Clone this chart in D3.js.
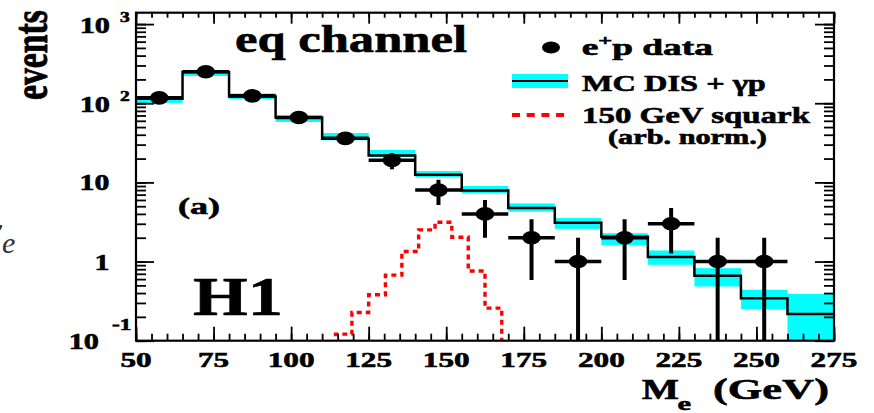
<!DOCTYPE html>
<html>
<head>
<meta charset="utf-8">
<script src="https://cdn.jsdelivr.net/npm/d3@7"></script>
<style>
  html, body { margin: 0; padding: 0; background: #fff; }
  svg { display: block; }
  text { font-family: "Liberation Serif", "Times New Roman", "DejaVu Serif", serif; font-weight: bold; fill: #000; }
  text.heavy { stroke: #000; stroke-width: 0.6px; }
</style>
</head>
<body>
<svg id="chart" width="874" height="413"></svg>
<script>
// e-q invariant mass bins (lower edges, GeV) of 15 GeV width
const binLow = [50, 65, 80, 95, 110, 125, 140, 155, 170, 185, 200, 215, 230, 245, 260];
const binWidth = 15;
// observed e+p events per bin (no event in the last bin)
const dataCounts = [117, 250, 124, 66, 36, 19, 8, 4, 2, 1, 2, 3, 1, 1, null];
// MC DIS + photoproduction expectation and its uncertainty band
const mcValues   = [114, 248, 122, 66, 35.7, 21.9, 12.5, 7.9, 4.76, 3.10, 2.05, 1.14, 0.66, 0.345, 0.217];
const mcBandLow  = [101, 221, 113, 58, 34, 21, 11.6, 7.3, 4.28, 2.59, 1.62, 0.91, 0.484, 0.25, 0.09];
const mcBandHigh = [121, 263, 133, 70, 42, 25.7, 13.9, 9.0, 5.43, 3.54, 2.28, 1.38, 0.825, 0.44, 0.39];
// 150 GeV squark signal shape, arbitrary normalisation (finer binning)
const sigLow    = [108.9, 114.3, 119.6, 125.0, 130.4, 135.7, 141.1, 146.4, 151.8, 157.1, 162.5, 167.9];
const sigWidth  = 5.357;
const sigValues = [0.05, 0.121, 0.227, 0.38, 0.673, 1.34, 2.51, 3.14, 2.03, 0.76, 0.258, 0.05];
// axis tick labels
const xTickValues = [50, 75, 100, 125, 150, 175, 200, 225, 250, 275];
const yMajorValues = [0.1, 1, 10, 100, 1000];
const yTickLabels = [
  { v: 1000, base: "10", exp: "3" },
  { v: 100,  base: "10", exp: "2" },
  { v: 10,   base: "10" },
  { v: 1,    base: "1" },
  { v: 0.1,  base: "10", exp: "-1" }
];

const svg = d3.select("#chart");
const L = 136, R = 834, T = 12.7, B = 340.7;

const x = d3.scaleLinear().domain([50, 275]).range([L, R]);
const y = d3.scaleLog().domain([0.1, 1393]).range([B, T]);

svg.append("defs").append("clipPath").attr("id", "plotClip")
  .append("rect").attr("x", L).attr("y", T).attr("width", R - L).attr("height", B - T);

const plot = svg.append("g").attr("clip-path", "url(#plotClip)");

// MC uncertainty band
plot.selectAll("rect.band").data(binLow).enter().append("rect")
  .attr("class", "band")
  .attr("x", d => x(d))
  .attr("width", d => x(d + binWidth) - x(d))
  .attr("y", (d, i) => y(mcBandHigh[i]))
  .attr("height", (d, i) => y(mcBandLow[i]) - y(mcBandHigh[i]))
  .attr("fill", "#00ffff");

// MC central value as a step histogram
const mcPts = binLow.map((b, i) => [b, mcValues[i]]);
mcPts.push([binLow[binLow.length - 1] + binWidth, mcValues[mcValues.length - 1]]);
plot.append("path")
  .attr("d", d3.line().x(d => x(d[0])).y(d => y(d[1])).curve(d3.curveStepAfter)(mcPts))
  .attr("fill", "none").attr("stroke", "#000").attr("stroke-width", 2.5);

// squark signal histogram, dashed red
const sigPts = sigLow.map((b, i) => [b, sigValues[i]]);
sigPts.push([sigLow[sigLow.length - 1] + sigWidth, sigValues[sigValues.length - 1]]);
plot.append("path")
  .attr("d", d3.line().x(d => x(d[0])).y(d => y(d[1])).curve(d3.curveStepAfter)(sigPts))
  .attr("fill", "none").attr("stroke", "#ff0000").attr("stroke-width", 3.4)
  .attr("stroke-dasharray", "5,4");

// data points with statistical errors
const pts = binLow.map((b, i) => ({ lo: b, n: dataCounts[i] })).filter(d => d.n !== null);
const floorV = y.domain()[0];
const dg = plot.append("g");
dg.selectAll("line.ev").data(pts).enter().append("line")
  .attr("x1", d => x(d.lo + binWidth / 2)).attr("x2", d => x(d.lo + binWidth / 2))
  .attr("y1", d => y(d.n + Math.sqrt(d.n)))
  .attr("y2", d => y(Math.max(d.n - Math.sqrt(d.n), floorV)))
  .attr("stroke", "#000").attr("stroke-width", 4);
dg.selectAll("line.eh").data(pts).enter().append("line")
  .attr("x1", d => x(d.lo)).attr("x2", d => x(d.lo + binWidth))
  .attr("y1", d => y(d.n)).attr("y2", d => y(d.n))
  .attr("stroke", "#000").attr("stroke-width", 3.5);
dg.selectAll("ellipse").data(pts).enter().append("ellipse")
  .attr("cx", d => x(d.lo + binWidth / 2)).attr("cy", d => y(d.n))
  .attr("rx", 9.3).attr("ry", 6.8).attr("fill", "#000");

// axes: ticks point inward on all four sides
function styleAxis(g) {
  g.select(".domain").remove();
  g.selectAll("line").attr("stroke", "#000").attr("stroke-width", 1.8);
  g.selectAll("text").remove();
}
const xMinor = x.ticks(45);
const yMinor = y.ticks();
svg.append("g").attr("transform", `translate(0,${B})`)
  .call(d3.axisBottom(x).tickValues(xMinor).tickSize(-7).tickFormat("")).call(styleAxis);
svg.append("g").attr("transform", `translate(0,${B})`)
  .call(d3.axisBottom(x).tickValues(xTickValues).tickSize(-14).tickFormat("")).call(styleAxis);
svg.append("g").attr("transform", `translate(0,${T})`)
  .call(d3.axisTop(x).tickValues(xMinor).tickSize(-5).tickFormat("")).call(styleAxis);
svg.append("g").attr("transform", `translate(0,${T})`)
  .call(d3.axisTop(x).tickValues(xTickValues).tickSize(-11).tickFormat("")).call(styleAxis);
svg.append("g").attr("transform", `translate(${L},0)`)
  .call(d3.axisLeft(y).tickValues(yMinor).tickSize(-10).tickFormat("")).call(styleAxis);
svg.append("g").attr("transform", `translate(${L},0)`)
  .call(d3.axisLeft(y).tickValues(yMajorValues).tickSize(-18).tickFormat("")).call(styleAxis);
svg.append("g").attr("transform", `translate(${R},0)`)
  .call(d3.axisRight(y).tickValues(yMinor).tickSize(-10).tickFormat("")).call(styleAxis);
svg.append("g").attr("transform", `translate(${R},0)`)
  .call(d3.axisRight(y).tickValues(yMajorValues).tickSize(-19).tickFormat("")).call(styleAxis);

// frame
svg.append("rect").attr("x", L).attr("y", T).attr("width", R - L).attr("height", B - T)
  .attr("fill", "none").attr("stroke", "#000").attr("stroke-width", 2.2);

// text helpers: the lettering is wide, so glyphs are stretched horizontally
function fitText(parent, str, x0, x1, base, size) {
  const t = parent.append("text").attr("class", "heavy").attr("font-size", size).text(str);
  const w = t.node().getComputedTextLength();
  t.attr("transform", `translate(${x0},${base}) scale(${(x1 - x0) / w},1)`);
  return t;
}
function wideText(parent, str, xa, base, size, sx, anchor) {
  return parent.append("text").attr("class", "heavy").attr("font-size", size).attr("text-anchor", anchor)
    .attr("transform", `translate(${xa},${base}) scale(${sx},1)`).text(str);
}

// x tick labels
xTickValues.forEach(v => wideText(svg, String(v), x(v), 366.5, 22, 1.42, "middle"));

// y tick labels (powers of ten)
yTickLabels.forEach(d => {
  const yc = y(d.v);
  if (d.v === 0.1) {
    wideText(svg, d.base, 99, yc + 8, 23, 1.32, "end");
    wideText(svg, d.exp, 112, yc - 11, 16, 1.45, "start");
  } else if (d.exp) {
    wideText(svg, d.base, 110, yc + 9, 23, 1.32, "end");
    wideText(svg, d.exp, 120, yc - 2, 15, 1.3, "start");
  } else {
    wideText(svg, d.base, 109.5, yc + 8, 23, 1.3, "end");
  }
});

// y axis title
(function () {
  const t = svg.append("text").attr("class", "heavy").attr("font-size", 34).text("events");
  const w = t.node().getComputedTextLength();
  t.attr("transform", `translate(46.5,100) rotate(-90) scale(${90 / w},1.4)`);
})();

// x axis title
fitText(svg, "M", 641.7, 679, 399, 30);
fitText(svg, "e", 677.5, 691, 410, 19);
fitText(svg, "(GeV)", 713, 829, 399, 30);

// annotations inside the frame
fitText(svg, "eq channel", 235, 467, 51.7, 38);
fitText(svg, "(a)", 178, 220, 214, 24);
fitText(svg, "H1", 193, 283, 315, 54);

// legend
svg.append("ellipse").attr("cx", 551).attr("cy", 47.5).attr("rx", 9).attr("ry", 6).attr("fill", "#000");
(function () {
  const t = svg.append("text").attr("class", "heavy").attr("font-size", 23);
  t.append("tspan").text("e");
  t.append("tspan").attr("font-size", 15).attr("dy", -10).text("+");
  t.append("tspan").attr("dy", 10).text("p data");
  const w = t.node().getComputedTextLength();
  t.attr("transform", `translate(581.7,55) scale(${(713 - 581.7) / w},1)`);
})();
svg.append("rect").attr("x", 512).attr("y", 74).attr("width", 56).attr("height", 14).attr("fill", "#00ffff");
svg.append("line").attr("x1", 512).attr("x2", 568).attr("y1", 81).attr("y2", 81)
  .attr("stroke", "#000").attr("stroke-width", 2);
fitText(svg, "MC DIS + γp", 582, 766, 90.7, 24);
svg.append("line").attr("x1", 512).attr("x2", 568).attr("y1", 115).attr("y2", 115)
  .attr("stroke", "#ff0000").attr("stroke-width", 4).attr("stroke-dasharray", "8,6.7");
fitText(svg, "150 GeV squark", 582, 810, 123, 24);
fitText(svg, "(arb. norm.)", 608, 767, 144, 20);

// edge of the neighbouring panel's label (ν with subscript e), mostly off the left edge
(function () {
  const t = svg.append("text").attr("font-size", 30).attr("y", 239)
    .style("font-style", "italic").style("font-weight", "normal").style("fill", "#333");
  t.append("tspan").text("ν");
  t.append("tspan").attr("dy", 14).text("e");
  const nuW = t.node().getSubStringLength(0, 1);
  t.attr("x", 2 - nuW);
})();
</script>
</body>
</html>
